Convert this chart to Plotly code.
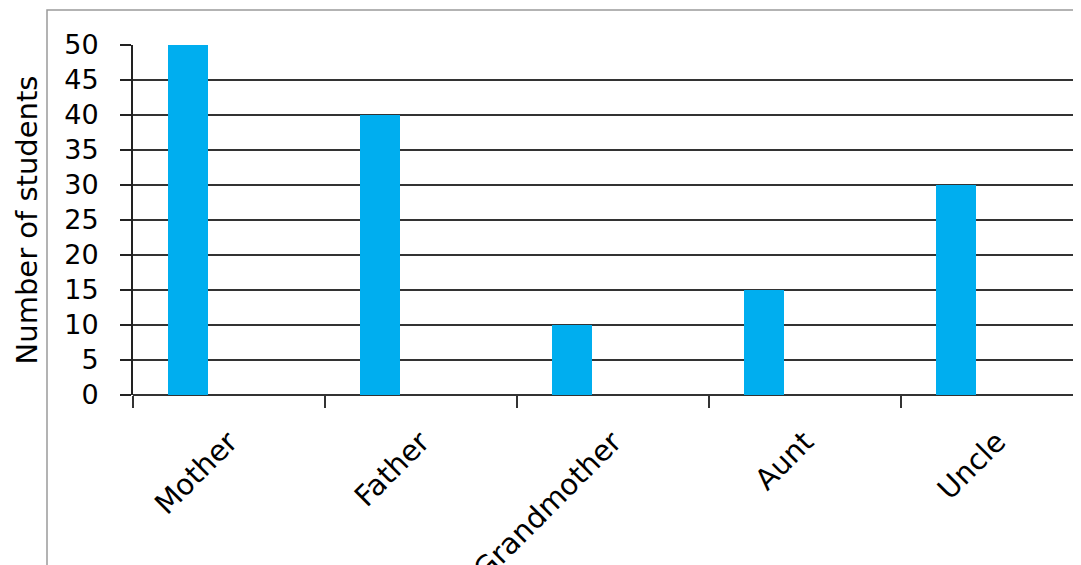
import plotly.graph_objects as go

categories = ["Mother", "Father", "Grandmother", "Aunt", "Uncle"]
students = [50, 40, 10, 15, 30]
y_ticks = [0, 5, 10, 15, 20, 25, 30, 35, 40, 45, 50]

FONT = "DejaVu Sans"

# the page shows the figure 8 px in from its top-left corner
L, T, B = 125, 37, 178
W, H = 1081, 565
PW = W - L
PH = H - T - B

fig = go.Figure()
fig.add_trace(go.Bar(
    x=categories, y=students,
    marker=dict(color="#00AEEF", line=dict(width=0)),
    width=0.213, offset=-0.32,
    showlegend=False,
))

fig.update_layout(
    width=W, height=H,
    margin=dict(l=L, r=0, t=T, b=B),
    paper_bgcolor="white", plot_bgcolor="white",
    font=dict(family=FONT, color="black", size=26),
    xaxis=dict(
        type="category",
        range=[-0.5, -0.5 + PW / 192.0],
        tickson="boundaries",
        ticks="outside", ticklen=12, tickwidth=2, tickcolor="#333",
        showgrid=False,
        showline=False,
        tickangle=-45,
        tickfont=dict(family=FONT, size=29, color="black"),
        ticklabelstandoff=23,
        zeroline=False,
        automargin=False,
    ),
    yaxis=dict(
        range=[0, 50],
        tickvals=y_ticks,
        ticks="outside", ticklen=11, tickwidth=2, tickcolor="#222",
        showline=True, linecolor="#222", linewidth=2,
        showgrid=True, gridcolor="#333", gridwidth=2,
        zeroline=True, zerolinecolor="#333", zerolinewidth=2,
        tickfont=dict(family=FONT, size=27, color="black"),
        ticklabelstandoff=16,
        title=dict(text="Number of students", font=dict(family=FONT, size=29, color="black"), standoff=18),
        automargin=False,
    ),
    shapes=[dict(
        type="rect", xref="paper", yref="paper",
        x0=(39 - L) / PW, x1=1.2,
        y0=-0.8, y1=(387 - 2) / PH,
        line=dict(color="#9a9a9a", width=1.5),
        fillcolor="rgba(0,0,0,0)", layer="below",
    )],
    bargap=0,
)

fig.write_html("out.html")
